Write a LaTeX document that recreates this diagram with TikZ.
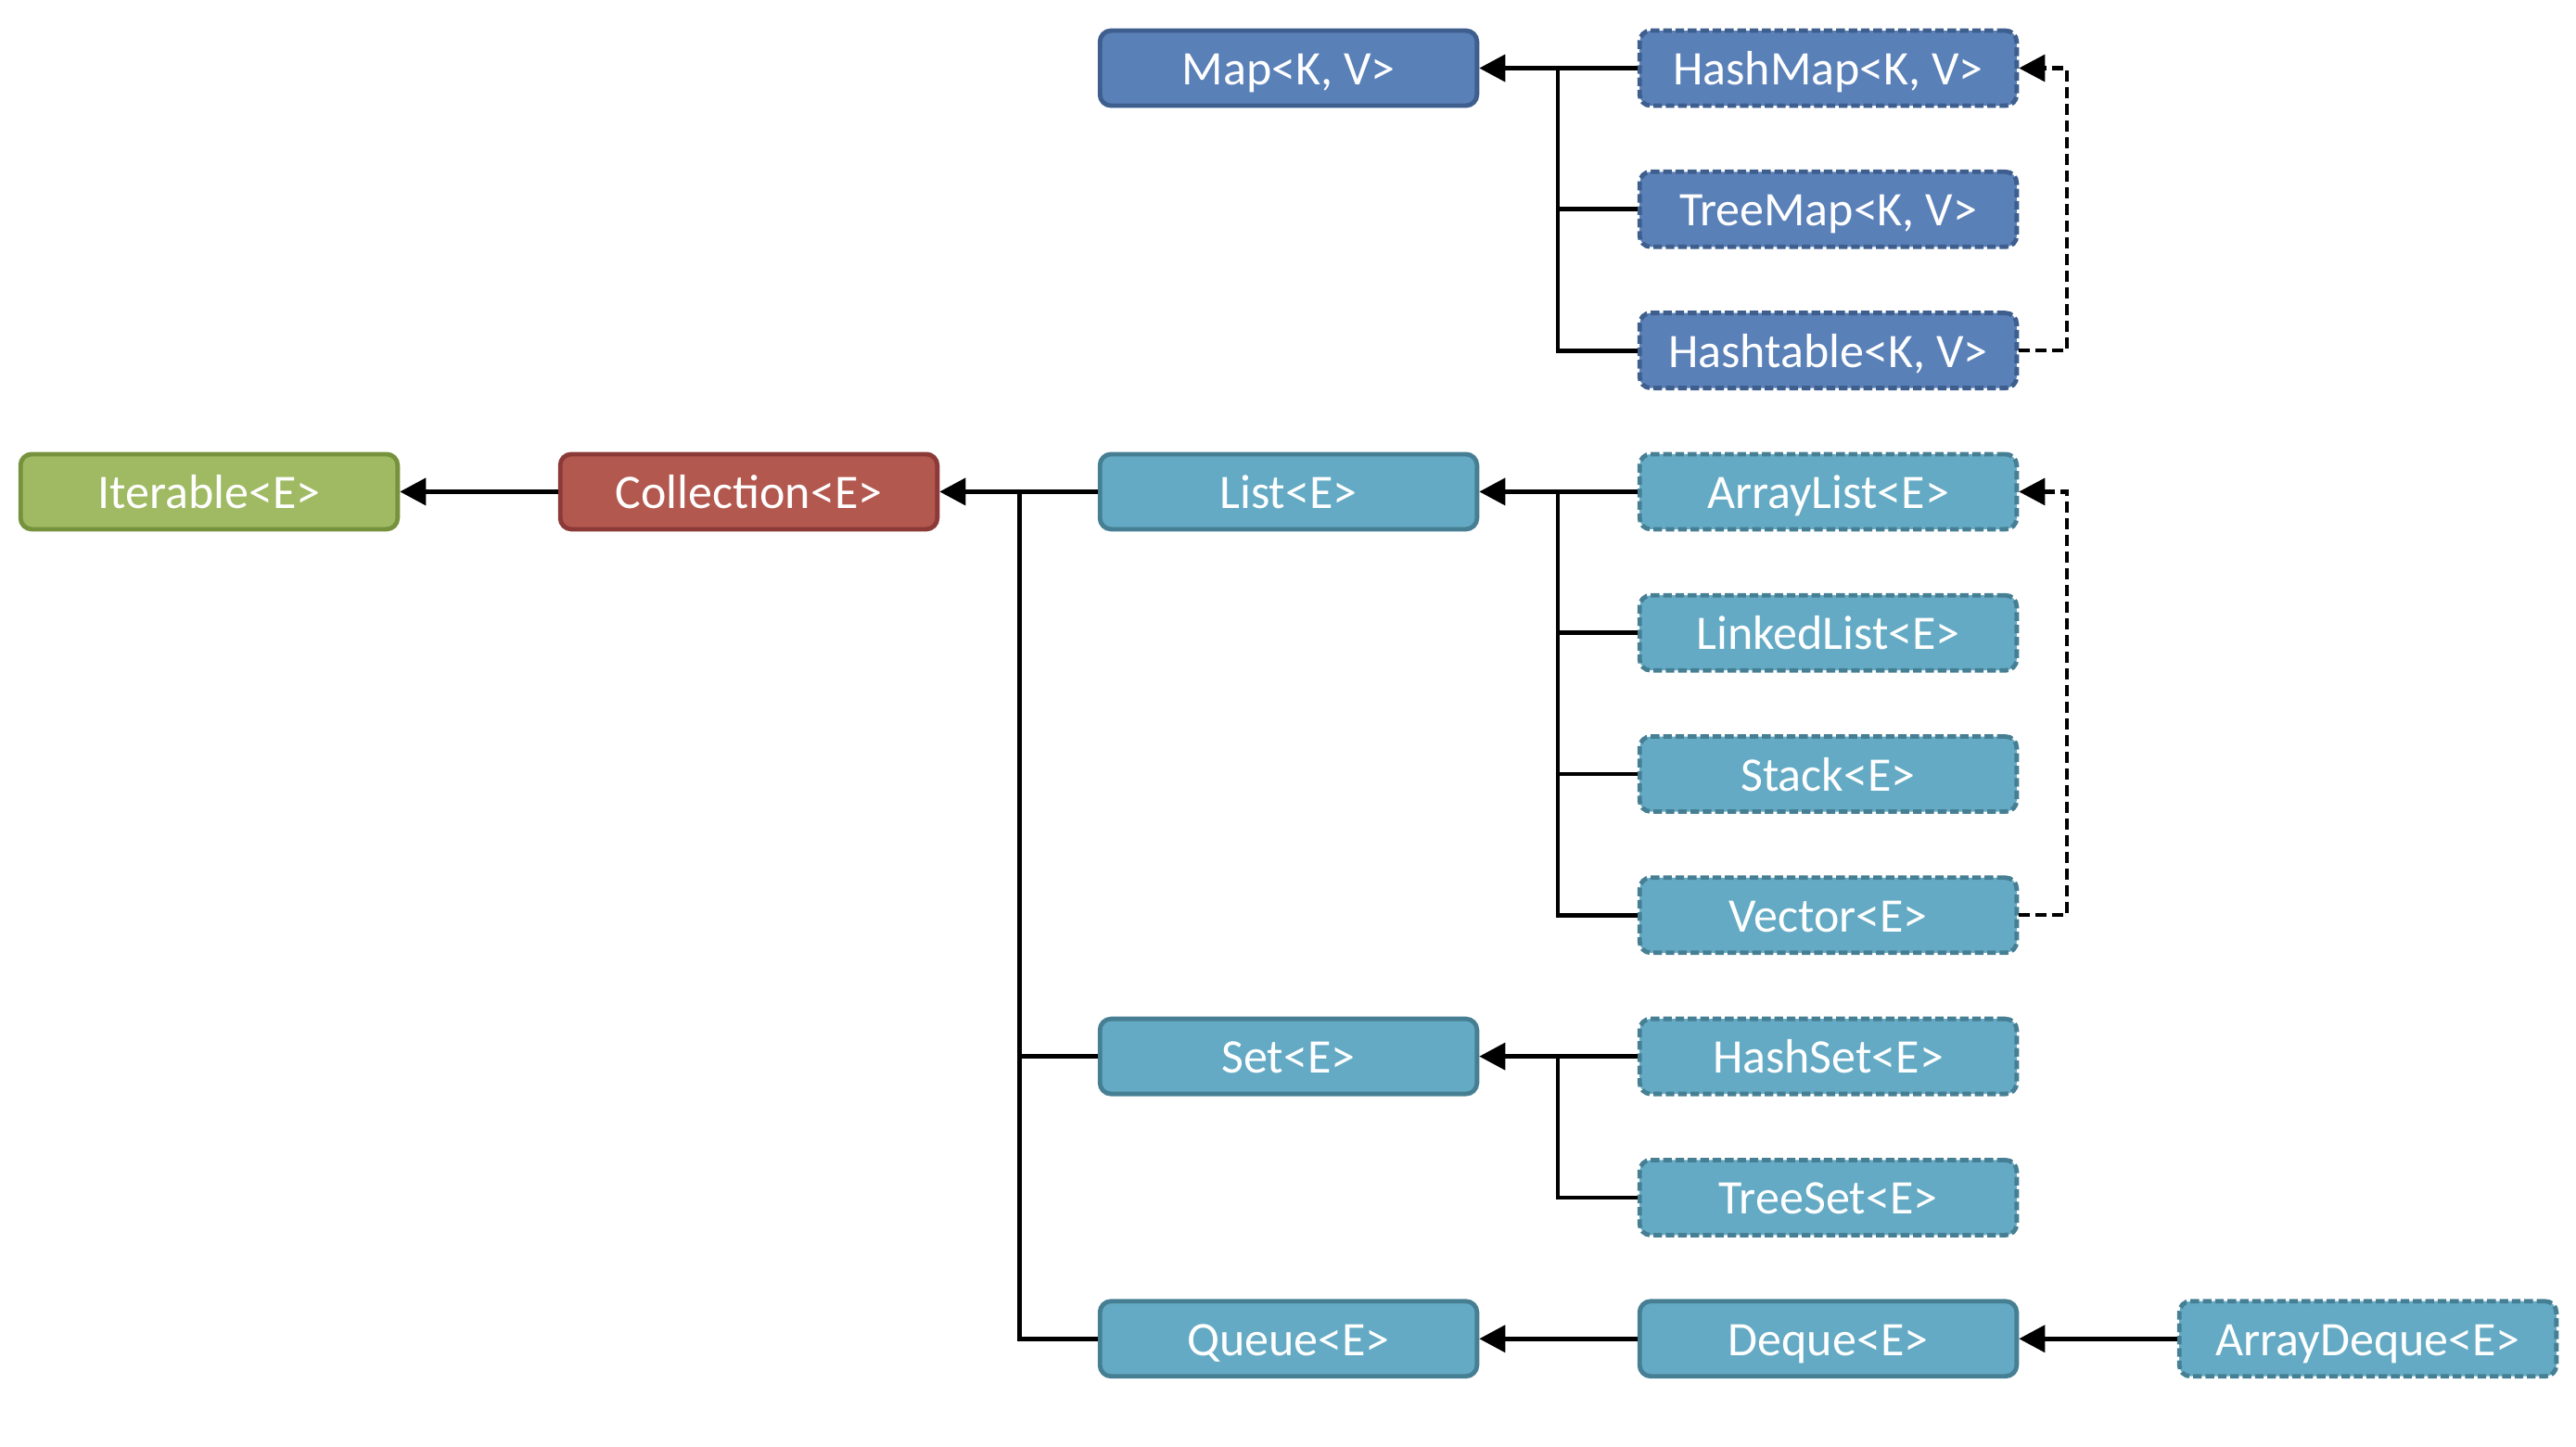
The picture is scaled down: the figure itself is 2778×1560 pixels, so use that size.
\documentclass[tikz,border=0pt]{standalone}
\usepackage{fontspec}
\setmainfont{Carlito}
\usetikzlibrary{arrows.meta}
\definecolor{gfill}{HTML}{9FBA63}
\definecolor{gdraw}{HTML}{76923C}
\definecolor{rfill}{HTML}{B3584F}
\definecolor{rdraw}{HTML}{8B3A37}
\definecolor{bfill}{HTML}{5A80B8}
\definecolor{bdraw}{HTML}{3E5E8E}
\definecolor{tfill}{HTML}{64AAC4}
\definecolor{tdraw}{HTML}{467F93}
\tikzset{
  box/.style={rectangle, rounded corners=3.6pt, line width=1.45pt,
    minimum width=122pt, minimum height=24.3pt, inner sep=0pt,
    text height=10.8pt, text depth=0pt,
    text=white, font=\fontsize{15.6pt}{18pt}\selectfont},
  absbox/.style={box},
  impbox/.style={box, dash pattern=on 2.8pt off 1.2pt},
  greenbox/.style={fill=gfill, draw=gdraw},
  redbox/.style={fill=rfill, draw=rdraw},
  bluebox/.style={fill=bfill, draw=bdraw},
  tealbox/.style={fill=tfill, draw=tdraw},
  conn/.style={line width=1.45pt, black},
  arr/.style={conn, -{Triangle[length=8.4pt, width=8.6pt]}},
  darr/.style={line width=1.25pt, black, dash pattern=on 3.6pt off 1.8pt,
    -{Triangle[length=8.4pt, width=8.6pt]}},
}
\begin{document}
\begin{tikzpicture}[x=0.3pt, y=-0.3pt]
\useasboundingbox (0,0) rectangle (2778,1560);
% columns: 225.5, 807.5, 1389.5, 1971.5, 2553.5 ; rows: 73.5 + 152.3k
\node[absbox, greenbox] (iterable)   at (225.5, 530.4)  {Iterable<E>};
\node[absbox, redbox]   (collection) at (807.5, 530.4)  {Collection<E>};
\node[absbox, bluebox]  (map)        at (1389.5, 73.5)  {Map<K, V>};
\node[impbox, bluebox]  (hashmap)    at (1971.5, 73.5)  {HashMap<K, V>};
\node[impbox, bluebox]  (treemap)    at (1971.5, 225.8) {TreeMap<K, V>};
\node[impbox, bluebox]  (hashtable)  at (1971.5, 378.1) {Hashtable<K, V>};
\node[absbox, tealbox]  (list)       at (1389.5, 530.4) {List<E>};
\node[impbox, tealbox]  (arraylist)  at (1971.5, 530.4) {ArrayList<E>};
\node[impbox, tealbox]  (linkedlist) at (1971.5, 682.7) {LinkedList<E>};
\node[impbox, tealbox]  (stack)      at (1971.5, 835.0) {Stack<E>};
\node[impbox, tealbox]  (vector)     at (1971.5, 987.3) {Vector<E>};
\node[absbox, tealbox]  (set)        at (1389.5, 1139.6) {Set<E>};
\node[impbox, tealbox]  (hashset)    at (1971.5, 1139.6) {HashSet<E>};
\node[impbox, tealbox]  (treeset)    at (1971.5, 1291.9) {TreeSet<E>};
\node[absbox, tealbox]  (queue)      at (1389.5, 1444.2) {Queue<E>};
\node[absbox, tealbox]  (deque)      at (1971.5, 1444.2) {Deque<E>};
\node[impbox, tealbox]  (arraydeque) at (2553.5, 1444.2) {ArrayDeque<E>};

% bus points
\coordinate (cbus) at (1099.5, 530.4);
\coordinate (mbus) at (1680, 73.5);
\coordinate (lbus) at (1680, 530.4);
\coordinate (sbus) at (1680, 1139.6);
\coordinate (mdash) at (2229, 73.5);
\coordinate (ldash) at (2229, 530.4);

% Collection -> Iterable
\draw[arr] (collection.west) -- (iterable.east);
% Collection children
\draw[arr] (list.west) -- (collection.east);
\draw[conn] (cbus) |- (set.west);
\draw[conn] (cbus) |- (queue.west);
% Map children
\draw[arr] (hashmap.west) -- (map.east);
\draw[conn] (mbus) |- (treemap.west);
\draw[conn] (mbus) |- (hashtable.west);
% List children
\draw[arr] (arraylist.west) -- (list.east);
\draw[conn] (lbus) |- (linkedlist.west);
\draw[conn] (lbus) |- (stack.west);
\draw[conn] (lbus) |- (vector.west);
% Set children
\draw[arr] (hashset.west) -- (set.east);
\draw[conn] (sbus) |- (treeset.west);
% Queue chain
\draw[arr] (deque.west) -- (queue.east);
\draw[arr] (arraydeque.west) -- (deque.east);
% dashed relations
\draw[darr] (hashtable.east) -| (mdash) -- (hashmap.east);
\draw[darr] (vector.east) -| (ldash) -- (arraylist.east);
\end{tikzpicture}
\end{document}
